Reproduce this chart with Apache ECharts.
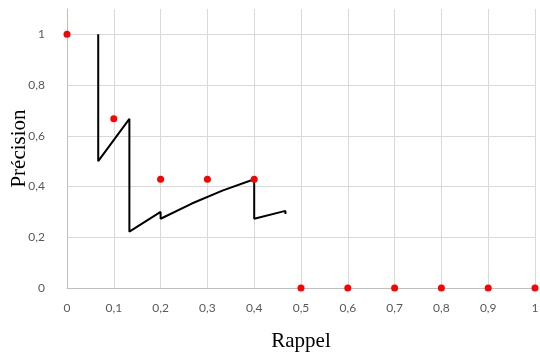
<!DOCTYPE html>
<html>
<head>
<meta charset="utf-8">
<script src="https://cdn.jsdelivr.net/npm/echarts@6/dist/echarts.min.js"></script>
<style>
  html, body { margin: 0; padding: 0; background: #fff; }
  #chart { width: 540px; height: 356px; }
</style>
</head>
<body>
<div id="chart"></div>
<script>
// interpolated precision points (red dots)
const pointRecall = [0, 0.1, 0.2, 0.3, 0.4, 0.5, 0.6, 0.7, 0.8, 0.9, 1];
const pointPrecision = [1, 0.667, 0.429, 0.429, 0.429, 0, 0, 0, 0, 0, 0];

// raw precision / recall curve (black line)
const curveRecall = [0.0667, 0.0667, 0.1333, 0.1333, 0.2, 0.2, 0.2667, 0.3333, 0.4, 0.4, 0.4667, 0.4667];
const curvePrecision = [1, 0.5, 0.667, 0.222, 0.3, 0.273, 0.333, 0.385, 0.429, 0.273, 0.304, 0.292];

const fmt = v => String(Math.round(v * 10) / 10).replace('.', ',');

const chart = echarts.init(document.getElementById('chart'));
chart.setOption({
  animation: false,
  grid: { left: 67, right: 5, top: 9, bottom: 68, containLabel: false, outerBoundsMode: 'none' },
  xAxis: {
    type: 'value',
    min: 0,
    max: 1,
    interval: 0.1,
    name: 'Rappel',
    nameLocation: 'middle',
    nameGap: 43,
    nameMoveOverlap: false,
    nameTextStyle: { fontFamily: 'Liberation Serif', fontSize: 21, color: '#000' },
    axisLine: { show: true, lineStyle: { color: '#bfbfbf' } },
    axisTick: { show: false },
    axisLabel: { formatter: fmt, color: '#595959', fontFamily: 'Lato', fontSize: 12, margin: 14 },
    splitLine: { show: true, lineStyle: { color: '#d9d9d9' } }
  },
  yAxis: {
    type: 'value',
    min: 0,
    max: 1.1,
    interval: 0.2,
    name: 'Précision',
    nameLocation: 'middle',
    nameGap: 37,
    nameMoveOverlap: false,
    nameRotate: 90,
    nameTextStyle: { fontFamily: 'Liberation Serif', fontSize: 21, color: '#000' },
    axisLine: { show: true, lineStyle: { color: '#bfbfbf' } },
    axisTick: { show: false },
    axisLabel: { formatter: fmt, color: '#595959', fontFamily: 'Lato', fontSize: 12, margin: 22, showMaxLabel: false },
    splitLine: { show: true, showMaxLine: false, lineStyle: { color: '#d9d9d9' } }
  },
  series: [
    {
      type: 'line',
      data: curveRecall.map((r, i) => [r, curvePrecision[i]]),
      symbol: 'none',
      lineStyle: { color: '#000', width: 2 },
      z: 2
    },
    {
      type: 'scatter',
      data: pointRecall.map((r, i) => [r, pointPrecision[i]]),
      symbolSize: 7,
      itemStyle: { color: '#ff0000', opacity: 1 },
      z: 3
    }
  ]
});
</script>
</body>
</html>
